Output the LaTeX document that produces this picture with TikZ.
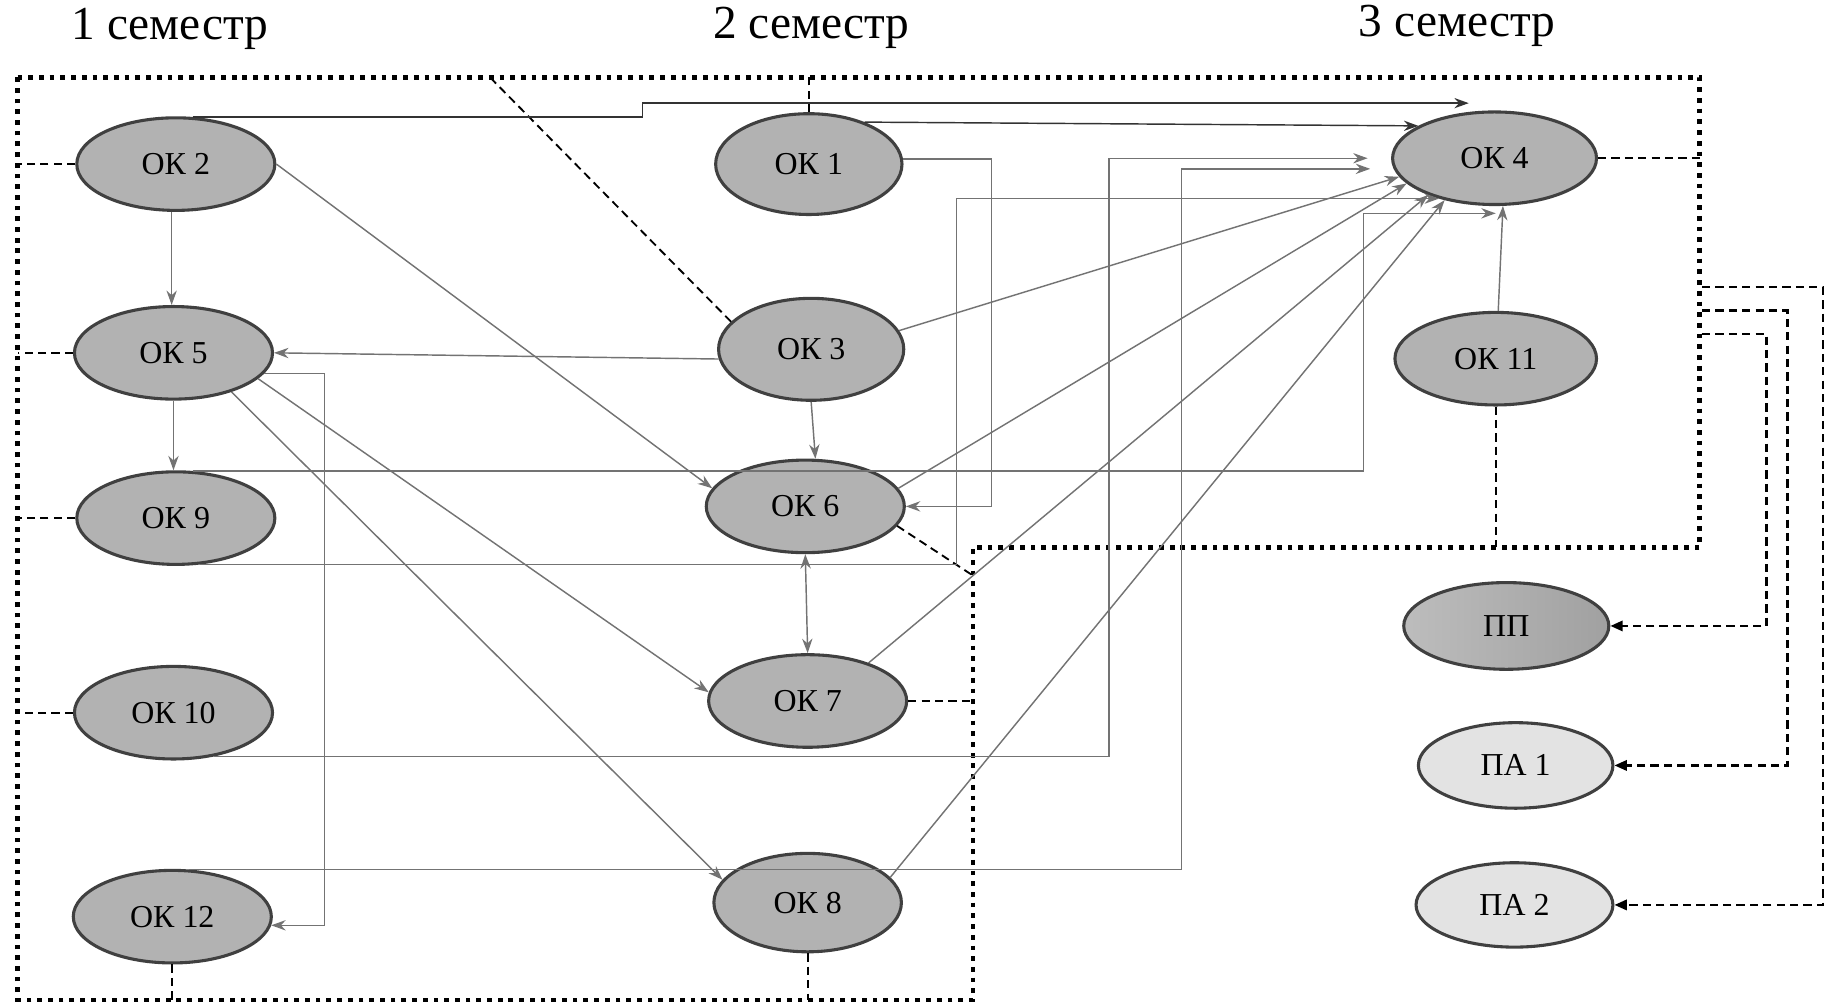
\documentclass[tikz,border=0pt]{standalone}
\usepackage{fontspec}
\setmainfont{Liberation Serif}
\usetikzlibrary{shapes.geometric,arrows.meta}

\begin{document}
\begin{tikzpicture}[x=0.02cm, y=-0.02cm, >={Stealth[length=7pt,width=5pt]},
	ok/.style={ellipse, draw=black!75, line width=1.5pt, fill=black!30, minimum width=3.38cm, minimum height=1.58cm, inner sep=0pt, font=\fontsize{15.5}{18}\selectfont},
	pa/.style={ok, fill=black!11},
	conn/.style={draw=black!55, line width=0.7pt, ->},
	dunkel/.style={draw=black!80},
	dline/.style={line width=0.9pt, dash pattern=on 4pt off 2.5pt},
	rline/.style={line width=1.2pt, dash pattern=on 4pt off 2.5pt, -{Triangle[length=6pt,width=5pt]}},
	rahmen/.style={line width=2.3pt, dash pattern=on 2.3pt off 2.9pt},
	titel/.style={font=\fontsize{23}{28}\selectfont, anchor=base}]
	\useasboundingbox (0,0) rectangle (1568,857);
	%Semester
	\node[titel] (s1) at (145,34) {1 семестр};
	\node[titel] (s2) at (692,33) {2 семестр};
	\node[titel] (s3) at (1243,31) {3 семестр};
	%Rahmen
	\draw[rahmen] (15,66) -- (1450,66) -- (1450,467) -- (830,467) -- (830,853) -- (15,853) -- cycle;
	%Knoten
	\node[ok] (ok2) at (150,140) {ОК 2};
	\node[ok, minimum width=3.18cm, minimum height=1.72cm] (ok1) at (690,140) {ОК 1};
	\node[ok, minimum width=3.48cm] (ok4) at (1275,135) {ОК 4};
	\node[ok] (ok5) at (148,301) {ОК 5};
	\node[ok, minimum width=3.16cm, minimum height=1.74cm] (ok3) at (692,298) {ОК 3};
	\node[ok, minimum width=3.44cm] (ok11) at (1276,306) {ОК 11};
	\node[ok] (ok9) at (150,442) {ОК 9};
	\node[ok] (ok6) at (687,432) {ОК 6};
	\node[ok] (ok10) at (148,608) {ОК 10};
	\node[ok] (ok7) at (689,598) {ОК 7};
	\node[ok] (ok12) at (147,782) {ОК 12};
	\node[ok, minimum width=3.2cm, minimum height=1.68cm] (ok8) at (689,770) {ОК 8};
	\node[ok, left color=black!26, right color=black!37, minimum width=3.5cm, minimum height=1.48cm] (pp) at (1285,534) {ПП};
	\node[pa, minimum width=3.32cm, minimum height=1.46cm] (pa1) at (1293,653) {ПА 1};
	\node[pa, minimum width=3.36cm, minimum height=1.44cm] (pa2) at (1292,772) {ПА 2};
	%Hilfspunkte
	\coordinate (kA) at (277,0);
	\coordinate (kB) at (816,0);
	\coordinate (kC) at (846,0);
	\coordinate (kD) at (946,0);
	\coordinate (kE) at (1008,0);
	\coordinate (kF) at (1163,0);
	\coordinate (kG) at (548,0);
	\coordinate (ok4oben) at (1253,88);
	\coordinate (ok4unten) at (1276,182);
	\coordinate (rl) at (15,0);
	\coordinate (ro) at (0,66);
	\coordinate (ru) at (0,853);
	\coordinate (rm) at (0,467);
	\coordinate (rr) at (1450,0);
	\coordinate (rc) at (830,0);
	\coordinate (ok6ecke) at (830,491);
	\coordinate (ok3oben) at (418,66);
	\coordinate (a1) at (1452,245);
	\coordinate (a2) at (1452,265);
	\coordinate (a3) at (1452,285);
	\coordinate (b1) at (1555,245);
	\coordinate (b2) at (1525,265);
	\coordinate (b3) at (1507,285);
	%gestrichelte Verbindungen zum Rahmen
	\draw[dline] (ok2.west) -- (ok2.west -| rl);
	\draw[dline] (ok5.west) -- (ok5.west -| rl);
	\draw[dline] (ok9.west) -- (ok9.west -| rl);
	\draw[dline] (ok10.west) -- (ok10.west -| rl);
	\draw[dline] (ok12.south) -- (ok12.south |- ru);
	\draw[dline] (ok8.south) -- (ok8.south |- ru);
	\draw[dline] (ok1.north) -- (ok1.north |- ro);
	\draw[dline] (ok4.east) -- (ok4.east -| rr);
	\draw[dline] (ok11.south) -- (ok11.south |- rm);
	\draw[dline] (ok7.east) -- (ok7.east -| rc);
	\draw[dline] (ok6.-12) -- (ok6ecke);
	\draw[dline] (ok3.161) -- (ok3oben);
	%Praktika
	\draw[rline] (a1) -- (b1) |- (pa2.east);
	\draw[rline] (a2) -- (b2) |- (pa1.east);
	\draw[rline] (a3) -- (b3) |- (pp.east);
	%1. Semester
	\draw[conn] (ok2.265) -- (ok2.265 |- ok5.north);
	\draw[conn] (ok5.south) -- (ok5.south |- ok9.north);
	\draw[conn] (ok2.east) -- (ok6.169);
	\draw[conn] (ok5.-17) -- (ok7.175);
	\draw[conn] (ok5.-34) -- (ok8.165);
	\draw[conn] (ok5.-13) -- (ok5.-13 -| kA) |- (ok12.-5);
	%2. Semester
	\draw[conn] (ok3.186) -- (ok5.east);
	\draw[conn] (ok3.south) -- (ok6.78);
	\draw[conn, <->] (ok6.south) -- (ok7.north);
	\draw[conn] (ok1.3) -- (ok1.3 -| kC) |- (ok6.east);
	%zu OK 4
	\draw[conn, dunkel] (ok2.70) -- (ok2.70 -| kG) |- (ok4oben);
	\draw[conn, dunkel] (ok1.37) -- (ok4.157);
	\draw[conn] (ok9.70) -- (ok9.70 -| kF) |- (ok4unten);
	\draw[conn] (ok9.-62) -- (ok9.-62 -| kB) |- (ok4.216);
	\draw[conn, shorten >=0.4cm] (ok10.-47) -- (ok10.-47 -| kD) |- (ok4.west);
	\draw[conn, shorten >=0.4cm] (ok12.70) -- (ok12.70 -| kE) |- (ok4.186);
	\draw[conn] (ok3.12) -- (ok4.191);
	\draw[conn] (ok6.11) -- (ok4.196);
	\draw[conn] (ok7.32) -- (ok4.209);
	\draw[conn] (ok8.17) -- (ok4.220);
	\draw[conn] (ok11.87) -- (ok4.-80);
\end{tikzpicture}
\end{document}
